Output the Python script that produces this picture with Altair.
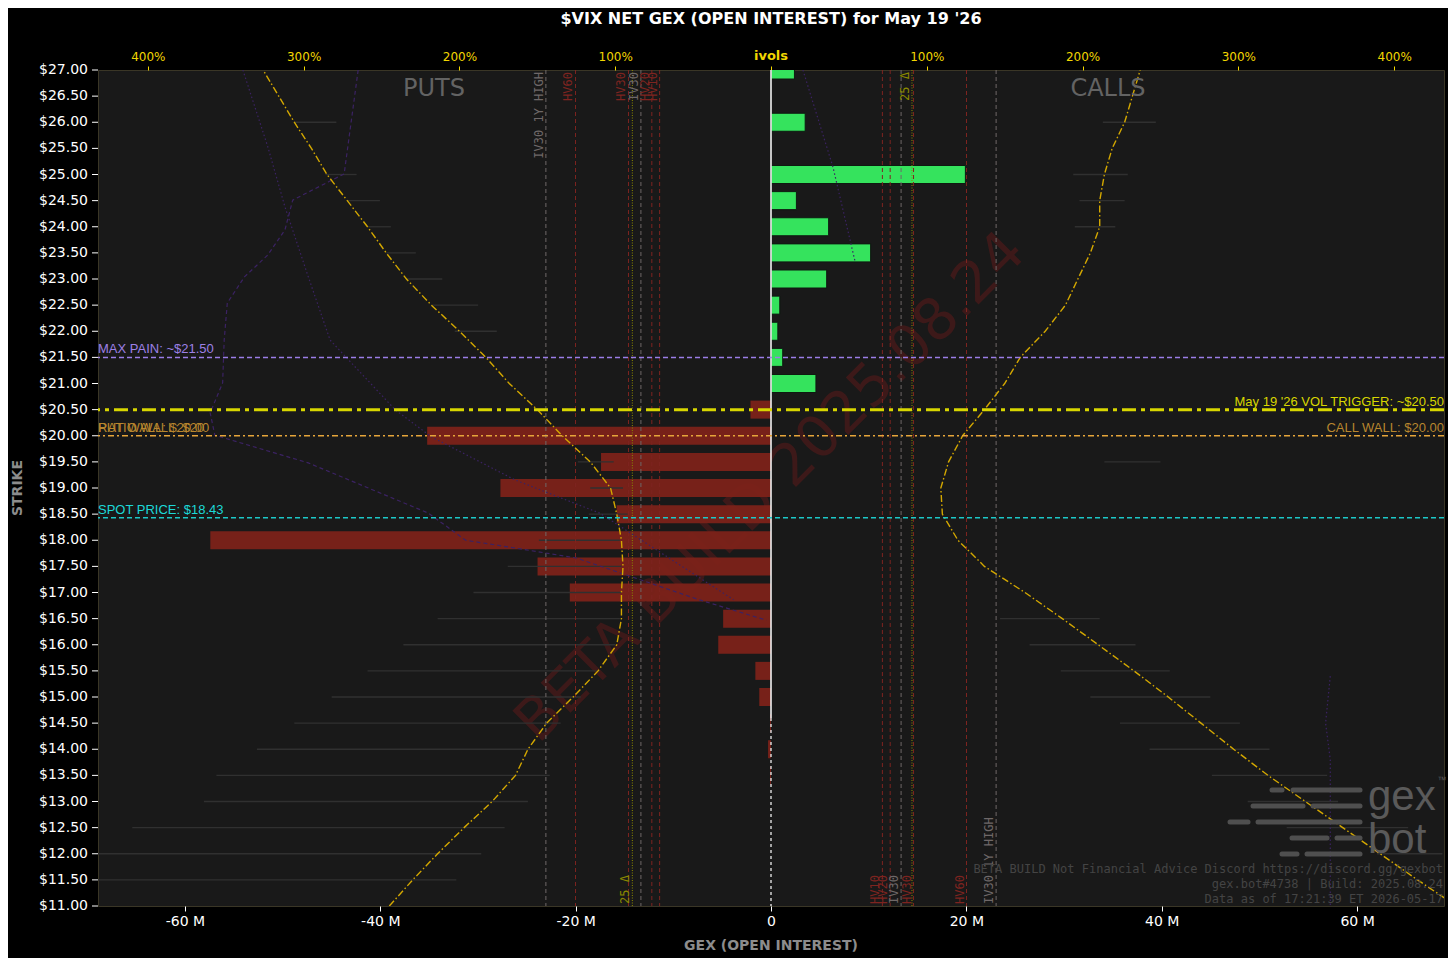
import altair as alt
import pandas as pd

TITLE = "$VIX NET GEX (OPEN INTEREST) for May 19 '26"

# strikes, top to bottom
strikes = [27.0, 26.5, 26.0, 25.5, 25.0, 24.5, 24.0, 23.5, 23.0, 22.5, 22.0, 21.5, 21.0,
           20.5, 20.0, 19.5, 19.0, 18.5, 18.0, 17.5, 17.0, 16.5, 16.0, 15.5, 15.0,
           14.5, 14.0, 13.5, 13.0, 12.5, 12.0, 11.5, 11.0]
# net GEX per strike, millions
net_gex = [2.4, 0, 3.5, 0, 19.9, 2.6, 5.9, 10.2, 5.7, 0.9, 0.7, 1.2, 4.6,
           -2.1, -35.2, -17.4, -27.7, -15.8, -57.4, -23.9, -20.6, -4.9, -5.4, -1.6, -1.2,
           -0.1, -0.3, -0.1, 0, 0, 0, 0, 0]
# implied vol smiles (%)
put_ivol = [326, 316, 306, 295, 285, 272, 259, 247, 234, 218, 200, 183, 168,
            150, 134, 116, 103, 99, 96, 95, 96, 96, 99, 111, 127,
            144, 156, 164, 179, 197, 214, 230, 245]
call_ivol = [237, 232, 227, 219, 214, 211, 211, 205, 197, 189, 176, 160, 150,
             137, 123, 114, 109, 110, 120, 137, 163, 187, 210, 233, 255,
             276, 297, 319, 343, 367, 391, 415, 440]

# faint ivol range whiskers
put_rng_strike = [26, 25, 24.5, 24, 23.5, 23, 22.5, 22, 19.5, 19, 18.5, 18, 17.5, 17,
                  16.5, 16, 15.5, 15, 14.5, 14, 13.5, 13, 12.5, 12, 11.5]
put_rng_hi = [306, 286, 272, 259, 247, 234, 218, 203, 124, 116, 117, 149, 169, 191,
              214, 236, 259, 282, 306, 330, 356, 364, 410, 432, 432]
put_rng_lo = [279, 266, 251, 244, 228, 211, 188, 176, 101, 95, 92, 97, 96, 96,
              97, 100, 110, 122, 135, 142, 142, 156, 171, 186, 202]
call_rng_strike = [26, 25, 24.5, 24, 19.5, 16.5, 16, 15.5, 15, 14.5, 14, 13.5, 13, 12.5, 12]
call_rng_lo = [213, 194, 198, 195, 214, 147, 166, 186, 205, 224, 243, 283, 306, 331, 389]
call_rng_hi = [247, 229, 227, 221, 250, 211, 234, 256, 282, 301, 320, 357, 364, 409, 431]

# other expiries (faint purple)
pa_strike = [27.0, 25.01, 24.86, 24.51, 23.94, 23.46, 23.04, 22.54, 21.83, 21.01, 20.44,
             20.01, 19.48, 18.52, 18.0, 17.85, 17.66, 16.86, 16.47]
pa_ivol = [265, 274, 284, 307, 312, 323, 338, 349, 351, 352, 360, 357, 297, 220, 196,
           164, 125, 46, 3]
pb_strike = [27.0, 25.53, 24.38, 23.04, 21.83, 20.49, 19.98, 19.15, 18.52, 16.86]
pb_ivol = [339, 323, 312, 297, 283, 241, 218, 164, 110, 24]
pc_strike = [27.0, 25.14, 23.33]
pc_ivol = [20.5, 39.8, 54]
pd_strike = [15.4, 14.5, 13.8, 11.0]
pd_ivol = [359, 356, 359, 359]

# vol reference lines (%), mirrored on both sides
ref_names = ["HV10", "HV20", "IV30", "HV30", "HV60", "IV30 1Y HIGH"]
ref_kinds = ["hv", "hv", "iv", "hv", "hv", "iv"]
ref_vals = [71.5, 76.5, 83.5, 91.5, 125.5, 144.5]
put_25d = 89.0
call_25d = 90.5

max_pain = 21.5
vol_trigger = 20.5
call_wall = 20.0
put_wall = 20.0
spot = 18.43

W, H = 1346, 836
FONT = "DejaVu Sans"
MONO = "DejaVu Sans Mono"
LBL = "Liberation Sans"

GEX_MAX = 68.9   # M at the plot edge
IV_MAX = 432.0   # % at the plot edge
K = GEX_MAX / IV_MAX  # ivol % -> GEX units, so both share one x scale

x_scale = alt.Scale(domain=[-GEX_MAX, GEX_MAX], nice=False, zero=False, padding=0)
y_scale = alt.Scale(domain=[11, 27], nice=False, zero=False, padding=0)

df = pd.DataFrame({"strike": strikes, "gex": net_gex,
                   "put_x": [-v * K for v in put_ivol], "call_x": [v * K for v in call_ivol],
                   "label": [f"${s:.2f}" for s in strikes]})
bars_df = df[df["gex"] != 0]


def one(**kw):
    return alt.Chart(pd.DataFrame({k: [v] for k, v in kw.items()} if kw else {"a": [0]}))


def X(field, axis=None):
    return alt.X(field, scale=x_scale, axis=axis)


def Y(field="strike:Q"):
    return alt.Y(field, scale=y_scale, axis=None)


# ---------- background fill between the two smiles ----------
fill = alt.Chart(df).mark_area(orient="horizontal", color="#211f1a").encode(
    x=X("put_x:Q"), x2="call_x:Q", y=Y(), order="strike:Q")

# strike axis (ticks + labels through the y scale)
y_ticks = alt.Chart(df).mark_rule(color="white", strokeWidth=1).encode(
    x=alt.value(-6), x2=alt.value(0), y=Y())
y_labels = alt.Chart(df).mark_text(align="right", baseline="middle", fontSize=14, font=FONT,
                                   color="white").encode(
    x=alt.value(-10), y=Y(), text="label:N")

# ---------- GEX layers ----------
x_axis = alt.Axis(orient="bottom", values=[-60, -40, -20, 0, 20, 40, 60],
                  labelExpr="datum.value == 0 ? '0' : (datum.value < 0 ? '-' : '') + format(abs(datum.value), 'd') + ' M'",
                  labelColor="white", labelFontSize=14, labelFont=FONT, tickColor="white",
                  tickSize=5, labelPadding=3, domain=False, grid=False, title=None)

watermark = one(t="BETA BUILD 2025.08.24").mark_text(
    angle=315, fontSize=58, font=FONT, color="#6a1a1a", opacity=0.45,
    align="center", baseline="middle").encode(
    text="t:N", x=alt.value(W / 2), y=alt.value(H / 2))

red_bars = alt.Chart(bars_df).transform_filter("datum.gex < 0").mark_bar(
    orient="horizontal", size=18, color="#7c2219", opacity=0.95, clip=True).encode(
    x=X("gex:Q", axis=x_axis), y=Y())
green_bars = alt.Chart(bars_df).transform_filter("datum.gex > 0").mark_bar(
    orient="horizontal", size=18, color="#35e35d", stroke="#0e1a10", strokeWidth=1,
    clip=True).encode(x=X("gex:Q"), y=Y())

zero_solid = one(a=0, y0=27, y1=14.6).mark_rule(color="white", strokeWidth=1.5).encode(
    x=X("a:Q"), y=Y("y0:Q"), y2="y1:Q")
zero_dash = one(a=0, y0=14.6, y1=11).mark_rule(color="white", strokeWidth=1.2,
                                               strokeDash=[3, 3]).encode(
    x=X("a:Q"), y=Y("y0:Q"), y2="y1:Q")


def hline(v, color, width, dash):
    return one(v=v).mark_rule(color=color, strokeWidth=width, strokeDash=dash).encode(
        y=Y("v:Q"))


def hlabel(v, text, color, side):
    left = side == "left"
    return one(v=v, t=text).mark_text(
        align="left" if left else "right", baseline="bottom", dy=-1, fontSize=13,
        font=LBL, color=color).encode(
        text="t:N", y=Y("v:Q"), x=alt.value(0 if left else W))


levels = [
    hline(max_pain, "#9b7ee8", 1.5, [5, 3]),
    hline(vol_trigger, "#d8d600", 3, [14, 5, 4, 5]),
    hline(call_wall, "#e6a53a", 1.3, [6, 3, 2, 3]),
    hline(spot, "#1cc8c8", 1.5, [5, 3]),
    hlabel(max_pain, f"MAX PAIN: ~${max_pain:.2f}", "#9d80e6", "left"),
    hlabel(put_wall, f"PUT WALL: ${put_wall:.2f}", "#b8862e", "left"),
    hlabel(put_wall, f"RATIO WALL: ${put_wall:.0f}", "#b8862e", "left"),
    hlabel(spot, f"SPOT PRICE: ${spot:.2f}", "#1cd8d8", "left"),
    hlabel(vol_trigger, f"May 19 '26 VOL TRIGGER: ~${vol_trigger:.2f}", "#d8d600", "right"),
    hlabel(call_wall, f"CALL WALL: ${call_wall:.2f}", "#b8862e", "right"),
]

title = one(t=TITLE).mark_text(fontSize=16, fontWeight="bold", font=FONT, color="white").encode(
    text="t:N", x=alt.value(W / 2), y=alt.value(-51))
x_title = one(t="GEX (OPEN INTEREST)").mark_text(
    fontSize=14, fontWeight="bold", font=FONT, color="#8c8c8c").encode(
    text="t:N", x=alt.value(W / 2), y=alt.value(H + 40))
y_title = one(t="STRIKE").mark_text(
    fontSize=14, fontWeight="bold", font=FONT, color="#8c8c8c", angle=270).encode(
    text="t:N", x=alt.value(-80), y=alt.value(H / 2))
ivols_lbl = one(t="ivols").mark_text(
    fontSize=13, fontWeight="bold", font=FONT, color="#f2d600").encode(
    text="t:N", x=alt.value(W / 2), y=alt.value(-14))

foot_lines = ["BETA BUILD Not Financial Advice Discord https://discord.gg/gexbot",
              "gex.bot#4738 | Build: 2025.08.24",
              "Data as of 17:21:39 ET 2026-05-17"]
footer = [one(t=s).mark_text(align="right", baseline="middle", fontSize=12, font=MONO,
                             color="#444444").encode(
    text="t:N", x=alt.value(W - 1), y=alt.value(799 + 15 * i))
    for i, s in enumerate(foot_lines)]

# gexbot logo
logo_segs = [(1174, 1184, 720), (1195, 1262, 720), (1155, 1205, 736), (1215, 1262, 736),
             (1132, 1150, 752), (1160, 1262, 752), (1194, 1229, 768), (1239, 1262, 768),
             (1184, 1199, 784), (1209, 1262, 784)]
logo = [one().mark_rule(color="#4f4f4f", strokeWidth=5, strokeCap="round").encode(
    x=alt.value(a), x2=alt.value(b), y=alt.value(c)) for a, b, c in logo_segs]
logo += [one(t=s).mark_text(align="left", baseline="alphabetic", fontSize=42, font=LBL,
                            color="#5a5a5a").encode(
    text="t:N", x=alt.value(1270), y=alt.value(yy)) for s, yy in [("gex", 740), ("bot", 783)]]
logo.append(one(t="™").mark_text(fontSize=9, font=LBL, color="#5a5a5a").encode(
    text="t:N", x=alt.value(1344), y=alt.value(710)))

# ---------- ivol layers ----------
top_axis = alt.Axis(orient="top", values=[v * K for v in [-400, -300, -200, -100, 0, 100, 200, 300, 400]],
                    labelExpr=f"datum.value == 0 ? '' : format(round(abs(datum.value) / {K}), 'd') + '%'",
                    labelColor="#f2d600", labelFontSize=12, labelFont=FONT,
                    tickColor="#f2d600", tickSize=4, labelPadding=3, domain=False,
                    grid=False, title=None)

rng_df = pd.concat([
    pd.DataFrame({"strike": put_rng_strike, "a": [-v * K for v in put_rng_hi],
                  "b": [-v * K for v in put_rng_lo]}),
    pd.DataFrame({"strike": call_rng_strike, "a": [v * K for v in call_rng_lo],
                  "b": [v * K for v in call_rng_hi]}),
])
ranges = alt.Chart(rng_df).mark_rule(color="#303030", strokeWidth=1.3, clip=True).encode(
    x=X("a:Q"), x2="b:Q", y=Y())

ref_df = pd.concat([
    pd.DataFrame({"x": [-v * K for v in ref_vals + [put_25d]], "name": ref_names + ["25 Δ"],
                  "kind": ref_kinds + ["delta"], "side": "put"}),
    pd.DataFrame({"x": [v * K for v in ref_vals + [call_25d]], "name": ref_names + ["25 Δ"],
                  "kind": ref_kinds + ["delta"], "side": "call"}),
])
kind_col = alt.Scale(domain=["hv", "iv", "delta"], range=["#7e2420", "#6f6868", "#8c8a00"])
kind_txt = alt.Scale(domain=["hv", "iv", "delta"], range=["#8e2b24", "#8a8a8a", "#9c9a18"])
kind_dash = alt.Scale(domain=["hv", "iv", "delta"], range=[[4, 3], [4, 3], [1, 1.5]])
ref_rules = alt.Chart(ref_df).mark_rule(strokeWidth=1).encode(
    x=X("x:Q"),
    color=alt.Color("kind:N", scale=kind_col, legend=None),
    strokeDash=alt.StrokeDash("kind:N", scale=kind_dash, legend=None),
)
top_ref = ((ref_df.side == "put") & (ref_df.kind != "delta")) | \
          ((ref_df.side == "call") & (ref_df.kind == "delta"))
ref_top = alt.Chart(ref_df[top_ref]).mark_text(
    angle=270, align="right", baseline="bottom", fontSize=12, font=MONO).encode(
    x=X("x:Q"), y=alt.value(2), text="name:N",
    color=alt.Color("kind:N", scale=kind_txt, legend=None))
ref_bot = alt.Chart(ref_df[~top_ref]).mark_text(
    angle=270, align="left", baseline="bottom", fontSize=12, font=MONO).encode(
    x=X("x:Q"), y=alt.value(H - 2), text="name:N",
    color=alt.Color("kind:N", scale=kind_txt, legend=None))


def curve(xs, ys, color, dash, width=1.2):
    d = pd.DataFrame({"x": [v * K for v in xs], "strike": ys, "i": range(len(xs))})
    return alt.Chart(d).mark_line(color=color, strokeDash=dash, strokeWidth=width,
                                  clip=True).encode(x=X("x:Q"), y=Y(), order="i:Q")


purple = [
    curve([-v for v in pa_ivol], pa_strike, "#3b2263", [4, 3]),
    curve([-v for v in pb_ivol], pb_strike, "#3b2263", [1.5, 2.5]),
    curve(pc_ivol, pc_strike, "#3b2263", [1.5, 2.5]),
    curve(pd_ivol, pd_strike, "#3b2263", [1.5, 2.5]),
]

smile_dash = [7, 2.5, 1.5, 2.5]
put_curve = alt.Chart(df).mark_line(color="#d4a800", strokeDash=smile_dash, strokeWidth=1.4,
                                    clip=True).encode(
    x=X("put_x:Q", axis=top_axis), y=Y(), order="strike:Q")
call_curve = alt.Chart(df).mark_line(color="#d4a800", strokeDash=smile_dash, strokeWidth=1.4,
                                     clip=True).encode(
    x=X("call_x:Q"), y=Y(), order="strike:Q")

sides = [one(t=s).mark_text(fontSize=24, font=FONT, color="#636363").encode(
    text="t:N", x=alt.value(xx), y=alt.value(19)) for s, xx in [("PUTS", 336), ("CALLS", 1010)]]

chart = alt.layer(
    fill, watermark, red_bars, green_bars, zero_solid, zero_dash,
    ranges, ref_rules, ref_top, ref_bot, *purple, put_curve, call_curve,
    *levels, *sides, y_ticks, y_labels, title, x_title, y_title, ivols_lbl, *footer, *logo,
).resolve_axis(x="independent").properties(
    width=W, height=H, autosize="none",
    padding={"left": 90, "top": 62, "right": 4, "bottom": 52},
    background="#000000",
).configure_view(fill="#191919", stroke="#3a3626", strokeWidth=1)

chart.save("out.html", embed_options={"renderer": "svg", "actions": False})
